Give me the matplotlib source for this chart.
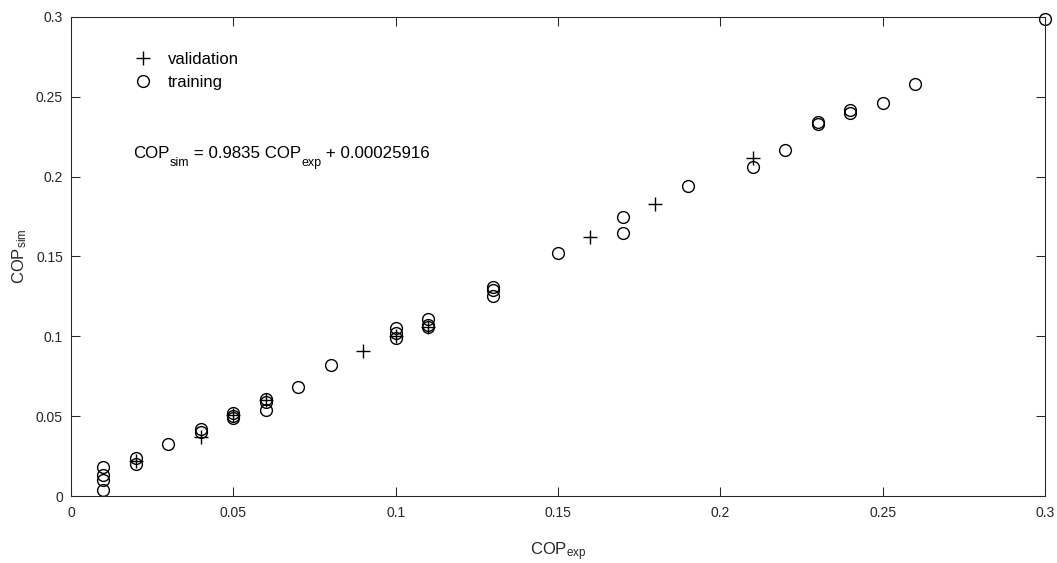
import matplotlib
matplotlib.use("Agg")
import matplotlib.pyplot as plt
from matplotlib.ticker import FuncFormatter, MultipleLocator
from matplotlib.transforms import offset_copy

# Data
val_x = [0.02, 0.04, 0.05, 0.06, 0.09, 0.10, 0.11, 0.16, 0.18, 0.21]
val_y = [0.022, 0.037, 0.051, 0.060, 0.091, 0.100, 0.106, 0.162, 0.183, 0.212]

train_x = [0.01, 0.01, 0.01, 0.01, 0.02, 0.02, 0.03, 0.04, 0.04,
           0.05, 0.05, 0.05, 0.06, 0.06, 0.06, 0.07, 0.08,
           0.10, 0.10, 0.10, 0.11, 0.11, 0.11, 0.13, 0.13, 0.13,
           0.15, 0.17, 0.17, 0.19, 0.21, 0.22, 0.23, 0.23,
           0.24, 0.24, 0.25, 0.26, 0.30]
train_y = [0.018, 0.013, 0.010, 0.004, 0.024, 0.020, 0.0325, 0.042, 0.040,
           0.052, 0.050, 0.049, 0.061, 0.059, 0.054, 0.068, 0.082,
           0.105, 0.102, 0.099, 0.111, 0.107, 0.106, 0.131, 0.129, 0.125,
           0.152, 0.175, 0.165, 0.194, 0.206, 0.217, 0.234, 0.233,
           0.242, 0.240, 0.246, 0.258, 0.299]

legend_labels = ["validation", "training"]
# equation pieces: (text, is_subscript)
equation_pieces = [("COP", False), ("sim", True), (" = 0.9835 COP", False),
                   ("exp", True), (" + 0.00025916", False)]
xlabel = r"COP$_{\mathrm{exp}}$"
ylabel = r"COP$_{\mathrm{sim}}$"

plt.rcParams['font.family'] = ['Liberation Sans', 'DejaVu Sans']
plt.rcParams['mathtext.fontset'] = 'custom'
plt.rcParams['mathtext.rm'] = 'Liberation Sans'
plt.rcParams['mathtext.it'] = 'Liberation Sans'

fig = plt.figure(figsize=(10.57, 5.63), dpi=100)
ax = fig.add_axes([71/1057, (563-496)/563, 974/1057, 479/563])

ax.plot(val_x, val_y, linestyle='none', marker='+', ms=10, mew=1.0,
        color='black', label=legend_labels[0], clip_on=False)
ax.plot(train_x, train_y, linestyle='none', marker='o', ms=8.5, mew=1.0,
        mfc='none', mec='black', label=legend_labels[1], clip_on=False)

ax.set_xlim(0, 0.3)
ax.set_ylim(0, 0.3)
ax.xaxis.set_major_locator(MultipleLocator(0.05))
ax.yaxis.set_major_locator(MultipleLocator(0.05))
fmt = FuncFormatter(lambda v, p: "%g" % round(v, 4))
ax.xaxis.set_major_formatter(fmt)
ax.yaxis.set_major_formatter(fmt)

ax.tick_params(direction='in', length=6.5, width=0.75, top=True, right=True,
               labelsize=10, labelcolor='#262626', color='#262626')
ax.tick_params(axis='x', pad=7)
ax.tick_params(axis='y', pad=5.8)
for s in ax.spines.values():
    s.set_linewidth(0.75)
    s.set_color('#262626')

ax.set_xlabel(xlabel, fontsize=12, color='#262626')
ax.set_ylabel(ylabel, fontsize=12, color='#262626')
ax.xaxis.set_label_coords(0.5, -0.092)
ax.yaxis.set_label_coords(-0.043, 0.5)

ax.legend(loc='upper left', bbox_to_anchor=(0.0637, 0.9267), frameon=False,
          fontsize=12, handlelength=1.2, handletextpad=0.9, borderpad=0,
          borderaxespad=0, labelspacing=0.48)

# equation with lowered subscripts, drawn piece by piece
fig.canvas.draw()
renderer = fig.canvas.get_renderer()
dx = 0.0
for txt, sub in equation_pieces:
    size = 9 if sub else 12.2
    dy = -8 if sub else 0
    t = ax.text(0.0637, 0.7056, txt, fontsize=size, va='baseline', ha='left',
                color='black',
                transform=offset_copy(ax.transAxes, fig=fig, x=dx, y=dy,
                                      units='dots'))
    dx += t.get_window_extent(renderer).width

fig.savefig("out.png", dpi=100)
